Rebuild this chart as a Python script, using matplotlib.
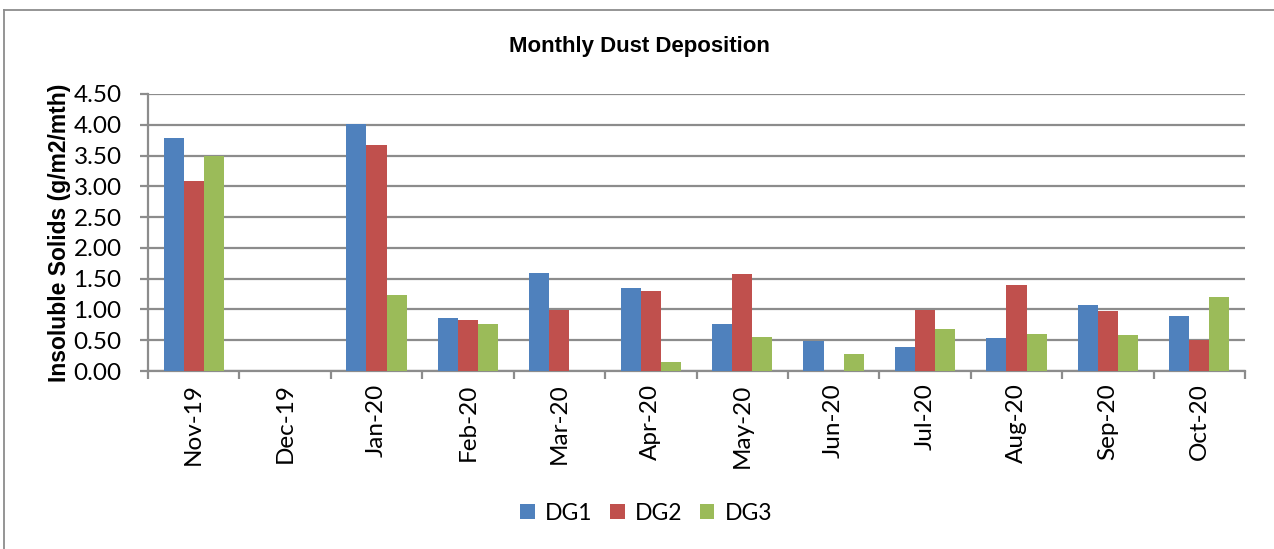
import matplotlib
matplotlib.use("Agg")
import matplotlib.pyplot as plt
from matplotlib.patches import Patch
from matplotlib.lines import Line2D
import numpy as np

months = ["Nov-19", "Dec-19", "Jan-20", "Feb-20", "Mar-20", "Apr-20",
          "May-20", "Jun-20", "Jul-20", "Aug-20", "Sep-20", "Oct-20"]
dg1 = [3.79, np.nan, 4.02, 0.86, 1.59, 1.35, 0.77, 0.49, 0.39, 0.53, 1.07, 0.90]
dg2 = [3.09, np.nan, 3.67, 0.83, 0.99, 1.30, 1.58, np.nan, 0.99, 1.40, 0.98, 0.51]
dg3 = [3.49, np.nan, 1.23, 0.77, np.nan, 0.15, 0.55, 0.28, 0.68, 0.60, 0.59, 1.21]
series_names = ["DG1", "DG2", "DG3"]
colors = ["#4F81BD", "#C0504D", "#9BBB59"]
yticks = [0.0, 0.5, 1.0, 1.5, 2.0, 2.5, 3.0, 3.5, 4.0, 4.5]

W, H = 1274, 549
fig = plt.figure(figsize=(W / 100, H / 100), dpi=100)
ax = fig.add_axes([148 / W, 1 - 371 / H, (1245 - 148) / W, (371 - 94) / H])

tick_font = ["Lato", "DejaVu Sans"]
bold_font = ["Liberation Sans Narrow", "Liberation Sans", "DejaVu Sans"]
grid_c = "#8C8C8C"
fs = 17.5

x = np.arange(len(months))
bw = 0.22
for i, (vals, c) in enumerate(zip([dg1, dg2, dg3], colors)):
    ax.bar(x + (i - 1) * bw, vals, width=bw, color=c, edgecolor="none", zorder=3)

ax.set_xlim(-0.5, len(months) - 0.5)
ax.set_ylim(0, 4.5)
ax.set_yticks(yticks)
ax.set_yticklabels([f"{v:.2f}" for v in yticks], fontfamily=tick_font, fontsize=fs)
ax.yaxis.grid(True, color=grid_c, linewidth=1.6, zorder=0)
ax.set_axisbelow(True)

ax.set_xticks(x)
ax.set_xticklabels(months, rotation=90, fontfamily=tick_font, fontsize=fs)
ax.set_xticks(np.arange(-0.5, len(months)), minor=True)
ax.tick_params(axis="x", which="major", length=0, pad=9)
ax.tick_params(axis="x", which="minor", length=6, width=1.6, color=grid_c)
ax.tick_params(axis="y", length=6, width=1.6, color=grid_c, pad=13)

for s in ["top", "right"]:
    ax.spines[s].set_visible(False)
for s in ["left", "bottom"]:
    ax.spines[s].set_color(grid_c)
    ax.spines[s].set_linewidth(1.6)

ax.set_ylabel("Insoluble Solids (g/m2/mth)", fontfamily=bold_font,
              fontweight="bold", fontsize=16.5, labelpad=2)
fig.text(639 / W, 1 - 47 / H, "Monthly Dust Deposition", fontfamily=bold_font,
         fontweight="bold", fontsize=16, ha="center", va="center")

handles = [Patch(facecolor=c, edgecolor="none", label=n) for c, n in zip(colors, series_names)]
fig.legend(handles=handles, loc="center", bbox_to_anchor=(646 / W, 1 - 513 / H),
           ncol=3, frameon=False, prop={"family": tick_font, "size": 16.5},
           handlelength=0.65, handleheight=0.65, handletextpad=0.45, columnspacing=0.75)

# outer chart border (left and top visible)
fig.add_artist(Line2D([4 / W, 4 / W], [0, 1 - 10 / H], transform=fig.transFigure,
                      color="#8C8C8C", linewidth=1.3))
fig.add_artist(Line2D([4 / W, 1], [1 - 10 / H, 1 - 10 / H], transform=fig.transFigure,
                      color="#8C8C8C", linewidth=1.3))

fig.savefig("out.png", dpi=100, facecolor="white")
